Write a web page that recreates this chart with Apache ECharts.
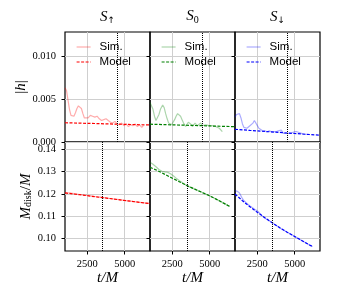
<!DOCTYPE html>
<html><head><meta charset="utf-8">
<script src="https://cdn.jsdelivr.net/npm/echarts@6/dist/echarts.min.js"></script>
<style>html,body{margin:0;padding:0;background:#fff}#c{width:338px;height:300px}</style>
</head><body><div id="c"></div>
<script>
// ---------- data ----------
const panelTitles = ['{s|S}{sa|↑}', '{s|S}{sn|0}', '{s|S}{sa|↓}'];
const xTicks = [2500, 5000];
const hTicks = [0, 0.005, 0.010];
const mTicks = [0.10, 0.11, 0.12, 0.13, 0.14];
const vlineTop = 4500;
const vlineBottom = 3500;

// |h| simulation [t/M, |h|]
const hSimUp = [[1000,0.0063],[1100,0.0060],[1200,0.0049],[1300,0.0038],[1400,0.0031],[1500,0.0029],[1600,0.0030],[1700,0.0034],[1800,0.0039],[1900,0.0042],[2000,0.0042],[2100,0.0039],[2200,0.0033],[2300,0.0028],[2400,0.0026],[2550,0.0028],[2700,0.0031],[2850,0.0030],[3000,0.0029],[3150,0.0030],[3300,0.0027],[3450,0.0025],[3600,0.0026],[3750,0.0027],[3900,0.0025],[4050,0.0023],[4200,0.0022],[4350,0.0024],[4500,0.0021],[4650,0.0020],[4800,0.0022],[4950,0.0019],[5100,0.0021],[5250,0.0018],[5400,0.0020],[5550,0.0019],[5700,0.0021],[5850,0.0018],[6000,0.0020],[6150,0.0017],[6250,0.0019]];
const hSimZero = [[1000,0.0046],[1100,0.0045],[1200,0.0038],[1300,0.0030],[1400,0.0025],[1500,0.0026],[1600,0.0032],[1700,0.0038],[1850,0.0043],[1950,0.0040],[2050,0.0033],[2150,0.0027],[2250,0.0022],[2350,0.0021],[2450,0.0020],[2550,0.0021],[2650,0.0026],[2750,0.0030],[2850,0.0033],[2950,0.0034],[3050,0.0030],[3150,0.0026],[3250,0.0022],[3390,0.0018],[3480,0.0020],[3570,0.0023],[3650,0.0022],[3730,0.0021],[3840,0.0018],[3930,0.0020],[4020,0.0022],[4170,0.0019],[4300,0.0020],[4400,0.0022],[4500,0.0019],[4620,0.0018],[4750,0.0020],[4850,0.0021],[4950,0.0019],[5070,0.0018],[5200,0.0019],[5300,0.0017],[5400,0.0018],[5520,0.0017],[5650,0.0016],[5740,0.0015],[5850,0.0012]];
const hSimDown = [[1000,0.0029],[1100,0.0032],[1200,0.0034],[1300,0.0033],[1400,0.0028],[1500,0.0021],[1600,0.0017],[1700,0.0016],[1800,0.0016],[1900,0.0017],[2000,0.0019],[2100,0.0020],[2200,0.0022],[2300,0.0025],[2400,0.0024],[2500,0.0019],[2600,0.0016],[2700,0.0014],[2850,0.0013],[3000,0.0013],[3150,0.0012],[3300,0.0013],[3450,0.0012],[3600,0.0012],[3750,0.0012],[3900,0.0013],[4000,0.0015],[4100,0.0014],[4250,0.0010],[4400,0.0010],[4550,0.0010],[4700,0.0010],[4850,0.0011],[5000,0.0012],[5150,0.0012],[5300,0.0011],[5450,0.0010],[5600,0.0009],[5700,0.0007],[5800,0.0009]];
// |h| model
const hModelUp = [[1000,0.00224],[2000,0.00219],[3000,0.00215],[4000,0.00210],[5000,0.00206],[6000,0.00201],[6700,0.00198]];
const hModelZero = [[1000,0.00207],[2000,0.00202],[3000,0.00197],[4000,0.00192],[5000,0.00187],[6000,0.00182],[6700,0.00178]];
const hModelDown = [[1000,0.00148],[2000,0.00135],[3000,0.00123],[4000,0.00111],[5000,0.00099],[6000,0.00087],[6700,0.00079]];

// M_disk/M simulation
const mSimUp = [[1000,0.1207],[1500,0.1203],[2000,0.1198],[2500,0.1194],[3000,0.1189],[3500,0.1185],[4000,0.1180],[4500,0.1176],[5000,0.1172],[5500,0.1167],[6000,0.1163],[6500,0.1159],[6700,0.1157]];
const mSimZero = [[1000,0.1342],[1200,0.1333],[1400,0.1322],[1600,0.1310],[1800,0.1302],[2000,0.1299],[2200,0.1297],[2400,0.1290],[2600,0.1280],[2800,0.1268],[3000,0.1258],[3200,0.1250],[3400,0.1241],[3600,0.1233],[4000,0.1222],[4500,0.1207],[5000,0.1192],[5500,0.1175],[6000,0.1157],[6350,0.1144]];
const mSimDown = [[1000,0.1216],[1150,0.1212],[1300,0.1205],[1450,0.1185],[1600,0.1170],[1800,0.1158],[2000,0.1147],[2200,0.1138],[2400,0.1128],[2550,0.1122],[2700,0.1110],[2900,0.1098],[3100,0.1088],[3500,0.1071],[4000,0.1049],[4500,0.1029],[5000,0.1010],[5500,0.0991],[6000,0.0972],[6200,0.0965]];
// M_disk/M model
const mModelUp = [[1000,0.1205],[2000,0.1197],[3000,0.1188],[4000,0.1180],[5000,0.1171],[6000,0.1163],[6700,0.1157]];
const mModelZero = [[1000,0.1320],[1500,0.1305],[2000,0.1288],[2500,0.1271],[3000,0.1254],[3500,0.1237],[4000,0.1222],[4500,0.1207],[5000,0.1192],[5500,0.1175],[6000,0.1157],[6350,0.1144]];
const mModelDown = [[1000,0.1200],[1500,0.1170],[2000,0.1143],[2500,0.1118],[3000,0.1094],[3500,0.1071],[4000,0.1049],[4500,0.1029],[5000,0.1010],[5500,0.0991],[6000,0.0972],[6200,0.0965]];

// ---------- chart ----------
const colors = ['#ff0000', '#008000', '#0000ff'];
const simData = [[hSimUp, hSimZero, hSimDown], [mSimUp, mSimZero, mSimDown]];
const modelData = [[hModelUp, hModelZero, hModelDown], [mModelUp, mModelZero, mModelDown]];

const SERIF = 'Liberation Serif';
const grids = [], xAxes = [], yAxes = [], series = [], legends = [];
const xMin = 1000, xMax = 6700;
const yRange = [[0, 0.0128], [0.0945, 0.1433]];
const gridLineColor = '#cfcfcf';

for (let r = 0; r < 2; r++) {
  for (let c = 0; c < 3; c++) {
    const i = r * 3 + c;
    grids.push({
      left: 65 + c * 85, top: r === 0 ? 32 : 142, width: 85, height: r === 0 ? 110 : 109,
      show: true, borderColor: '#000', borderWidth: 1.2, backgroundColor: 'transparent'
    });
    xAxes.push({
      type: 'value', gridIndex: i, min: xMin, max: xMax,
      axisLine: { show: false },
      axisTick: { show: r === 1, customValues: xTicks, length: 3.5, lineStyle: { color: '#000' } },
      axisLabel: { show: r === 1, customValues: xTicks, margin: 8, fontFamily: SERIF, fontSize: 10.5, color: '#000',
        formatter: v => String(Math.round(v)) },
      splitLine: { show: true, lineStyle: { color: gridLineColor, width: 1 } },
      name: r === 1 ? '{i|t/M}' : '',
      nameLocation: 'middle', nameGap: 17,
      nameTextStyle: { rich: { i: { fontFamily: SERIF, fontStyle: 'italic', fontSize: 15, color: '#000' } } }
    });
    const ticks = r === 0 ? hTicks : mTicks;
    yAxes.push({
      type: 'value', gridIndex: i, min: yRange[r][0], max: yRange[r][1],
      axisLine: { show: false },
      axisTick: { show: true, customValues: ticks, length: 3.5, lineStyle: { color: '#000' } },
      axisLabel: {
        show: c === 0, customValues: ticks, margin: 9, fontFamily: SERIF, fontSize: 10.5, color: '#000',
        formatter: v => r === 0 ? v.toFixed(3) : v.toFixed(2)
      },
      splitLine: { show: true, lineStyle: { color: gridLineColor, width: 1 } },
      name: c === 0 ? (r === 0 ? '{n||}{i|h}{n||}' : '{i|M}{sub|disk}{n|/}{i|M}') : '',
      nameLocation: 'middle', nameGap: r === 0 ? 36 : 31,
      nameTextStyle: {
        rich: {
          i: { fontFamily: SERIF, fontStyle: 'italic', fontSize: 15, color: '#000' },
          n: { fontFamily: SERIF, fontSize: 15, color: '#000' },
          sub: { fontFamily: SERIF, fontSize: 10, color: '#000', padding: [6, 0, 0, 0] }
        }
      }
    });
    series.push({
      type: 'line', name: 'Sim.', xAxisIndex: i, yAxisIndex: i,
      data: simData[r][c], symbol: 'none', showSymbol: false, silent: true,
      lineStyle: { color: colors[c], width: 1.2, opacity: 0.33 },
      itemStyle: { color: colors[c] }, z: 2
    });
    series.push({
      type: 'line', name: 'Model', xAxisIndex: i, yAxisIndex: i,
      data: modelData[r][c], symbol: 'none', showSymbol: false, silent: true,
      lineStyle: { color: colors[c], width: 1.2, type: [3, 1.5] },
      itemStyle: { color: colors[c] }, z: 3,
      markLine: {
        silent: true, symbol: ['none', 'none'], label: { show: false },
        lineStyle: { color: '#000', type: 'dotted', width: 1 },
        data: [{ xAxis: r === 0 ? vlineTop : vlineBottom }]
      }
    });
  }
}
// title axes on top of upper row
for (let c = 0; c < 3; c++) {
  xAxes.push({
    type: 'value', gridIndex: c, position: 'top', min: xMin, max: xMax,
    axisLine: { show: false }, axisTick: { show: false }, axisLabel: { show: false }, splitLine: { show: false },
    name: panelTitles[c], nameLocation: 'middle', nameGap: 7,
    nameTextStyle: {
      rich: {
        s: { fontFamily: SERIF, fontStyle: 'italic', fontSize: 15, color: '#000' },
        sa: { fontFamily: 'DejaVu Sans', fontSize: 9, color: '#000', padding: [7, 0, 0, 0] },
        sn: { fontFamily: SERIF, fontSize: 10, color: '#000', padding: [7, 0, 0, 0] }
      }
    }
  });
  legends.push({
    left: 65 + c * 85 + 6, top: 36, orient: 'vertical',
    itemWidth: 14, itemHeight: 12, itemGap: 3, selectedMode: false,
    textStyle: { fontFamily: 'Liberation Sans', fontSize: 11.5, color: '#000', padding: [0, 0, 0, 4] },
    data: [
      { name: 'Sim.', lineStyle: { color: colors[c], opacity: 0.33, width: 1.2, type: 'solid' }, itemStyle: { opacity: 0 } },
      { name: 'Model', lineStyle: { color: colors[c], opacity: 1, width: 1.2, type: [3, 1.5] }, itemStyle: { opacity: 0 } }
    ]
  });
}

const chart = echarts.init(document.getElementById('c'), null, { renderer: 'canvas' });
chart.setOption({
  animation: false,
  backgroundColor: '#fff',
  grid: grids, xAxis: xAxes, yAxis: yAxes, legend: legends, series: series
});
</script>
</body></html>
